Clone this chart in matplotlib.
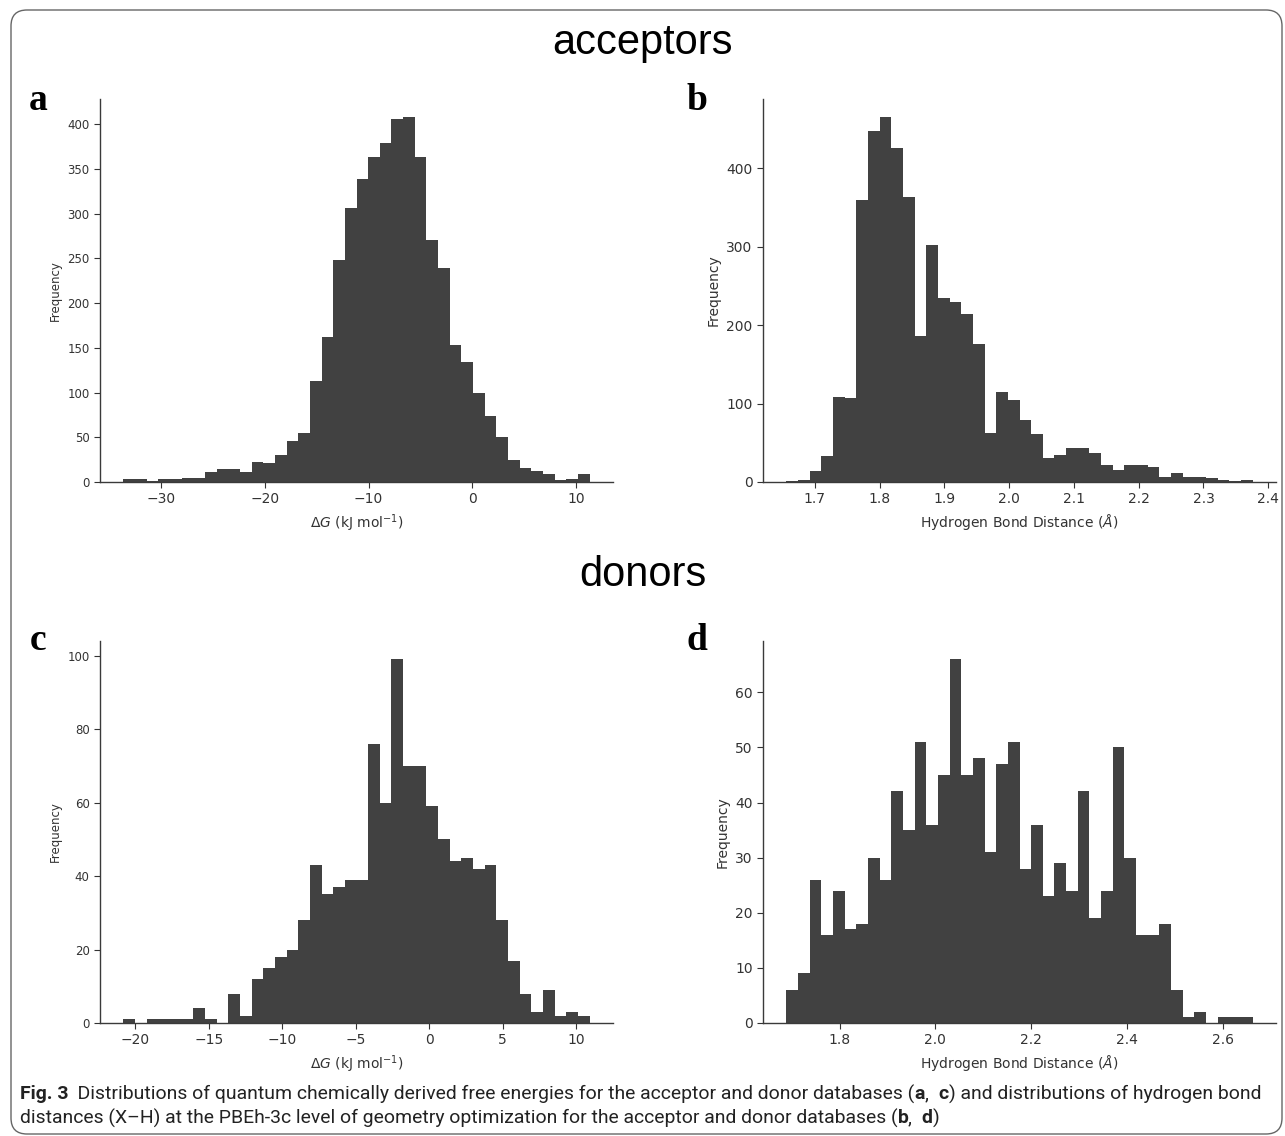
import matplotlib
matplotlib.use("Agg")
import matplotlib.pyplot as plt
import numpy as np
from matplotlib import font_manager
from matplotlib.font_manager import FontProperties
from matplotlib.patches import FancyBboxPatch
from matplotlib.transforms import IdentityTransform
from matplotlib.ticker import MultipleLocator

# acceptors, free energies (kJ/mol), 40 equal bins over this range
acc_dg_range = (-33.6, 11.28)
acc_dg_counts = [3, 3, 1, 3, 3, 4, 5, 11, 14, 14, 11, 22, 21, 30, 46, 55, 113, 162, 248, 306,
                 339, 363, 379, 406, 408, 363, 271, 239, 153, 134, 100, 74, 50, 25, 16, 12, 9, 2, 3, 9]

# acceptors, hydrogen bond distances (A)
acc_dist_range = (1.656, 2.376)
acc_dist_counts = [1, 2, 14, 33, 108, 107, 360, 448, 465, 426, 363, 186, 302, 235, 230, 214, 176, 63, 115, 104,
                   79, 61, 30, 35, 43, 43, 37, 22, 15, 22, 22, 19, 7, 11, 7, 7, 5, 3, 1, 2]

# donors, free energies
don_dg_range = (-20.82, 10.93)
don_dg_counts = [1, 0, 1, 1, 1, 1, 4, 1, 0, 8, 2, 12, 15, 18, 20, 28, 43, 35, 37, 39,
                 39, 76, 60, 99, 70, 70, 59, 50, 44, 45, 42, 43, 28, 17, 8, 3, 9, 2, 3, 2]

# donors, hydrogen bond distances
don_dist_range = (1.689, 2.662)
don_dist_counts = [6, 9, 26, 16, 24, 17, 18, 30, 26, 42, 35, 51, 36, 45, 66, 45, 48, 31, 47, 51,
                   28, 36, 23, 29, 24, 42, 19, 24, 50, 30, 16, 16, 18, 6, 1, 2, 0, 1, 1, 1]

dg_label = r'$\Delta G$ (kJ mol$^{-1}$)'
dist_label = r'Hydrogen Bond Distance ($\AA$)'

W, H = 1285, 1136
fig = plt.figure(figsize=(W / 100, H / 100), dpi=100)


def px_axes(x0, y0, x1, y1):
    return fig.add_axes([x0 / W, 1 - y1 / H, (x1 - x0) / W, (y1 - y0) / H])


def draw_hist(ax, rng, counts, xstep, ystep, xlabel, ysize):
    edges = np.linspace(rng[0], rng[1], len(counts) + 1)
    centers = (edges[:-1] + edges[1:]) / 2
    ax.hist(centers, bins=edges, weights=counts, color='#414141', linewidth=0)
    for s in ['top', 'right']:
        ax.spines[s].set_visible(False)
    for s in ['left', 'bottom']:
        ax.spines[s].set_color('#3a3a3a')
        ax.spines[s].set_linewidth(1.0)
    ax.xaxis.set_major_locator(MultipleLocator(xstep))
    ax.yaxis.set_major_locator(MultipleLocator(ystep))
    ax.tick_params(colors='#333333', length=4, width=0.8)
    ax.tick_params(axis='x', labelsize=10)
    ax.tick_params(axis='y', labelsize=ysize)
    ax.set_xlabel(xlabel, fontsize=10, color='#333333')
    ax.set_ylabel('Frequency', fontsize=ysize, color='#333333')


ax_a = px_axes(100, 99, 613, 482)
draw_hist(ax_a, acc_dg_range, acc_dg_counts, 10, 50, dg_label, 8.5)
ax_b = px_axes(763, 99, 1276, 482)
draw_hist(ax_b, acc_dist_range, acc_dist_counts, 0.1, 100, dist_label, 10)
ax_c = px_axes(100, 641, 613, 1023)
draw_hist(ax_c, don_dg_range, don_dg_counts, 5, 20, dg_label, 8.5)
ax_d = px_axes(763, 641, 1276, 1023)
draw_hist(ax_d, don_dist_range, don_dist_counts, 0.2, 10, dist_label, 10)

# group titles and panel letters
fig.text(0.5, 1 - 43 / H, 'acceptors', ha='center', va='center', fontsize=30, family='Liberation Sans')
fig.text(0.5, 1 - 575 / H, 'donors', ha='center', va='center', fontsize=30, family='Liberation Sans')
for letter, x, y in [('a', 38, 101), ('b', 697, 101), ('c', 38, 640), ('d', 697, 640)]:
    fig.text(x / W, 1 - y / H, letter, ha='center', va='center', fontsize=27,
             fontweight='bold', family='Liberation Serif')

# caption, mixed bold / regular pieces
names = {f.name for f in font_manager.fontManager.ttflist}
cap_font = 'Liberation Sans Narrow' if 'Liberation Sans Narrow' in names else 'Roboto'
line1 = [('Fig. 3', 'bold'),
         ('  Distributions of quantum chemically derived free energies for the acceptor and donor databases (', 'normal'),
         ('a', 'bold'), (', ', 'normal'), ('c', 'bold'), (') and distributions of hydrogen bond', 'normal')]
line2 = [('distances (X\u2013H) at the PBEh-3c level of geometry optimization for the acceptor and donor databases (', 'normal'),
         ('b', 'bold'), (', ', 'normal'), ('d', 'bold'), (')', 'normal')]

renderer = fig.canvas.get_renderer()


def seg_width(s, size, weight):
    prop = FontProperties(family=cap_font, size=size, weight=weight)
    w = renderer.get_text_width_height_descent(s, prop, ismath=False)[0]
    sp = (renderer.get_text_width_height_descent('a a', prop, ismath=False)[0]
          - renderer.get_text_width_height_descent('aa', prop, ismath=False)[0])
    lead = len(s) - len(s.lstrip(' '))
    trail = len(s) - len(s.rstrip(' '))
    return w + sp * trail, sp * lead


def line_width(parts, size):
    total = 0
    for s, wt in parts:
        w, lead = seg_width(s, size, wt)
        total += w
    return total


cap_size = 10 * 1243 / line_width(line1, 10)
for parts, y in [(line1, 1094), (line2, 1118)]:
    x = 20
    for s, wt in parts:
        w, lead = seg_width(s, cap_size, wt)
        fig.text(x / W, 1 - y / H, s, ha='left', va='center', fontsize=cap_size,
                 fontweight=wt, family=cap_font, color='#222222')
        x += w

border = FancyBboxPatch((11, 2), 1271, 1124, boxstyle='round,pad=0,rounding_size=16',
                        transform=IdentityTransform(), fill=False, edgecolor='#666666', linewidth=1.0)
fig.add_artist(border)

fig.savefig('out.png', dpi=100)
